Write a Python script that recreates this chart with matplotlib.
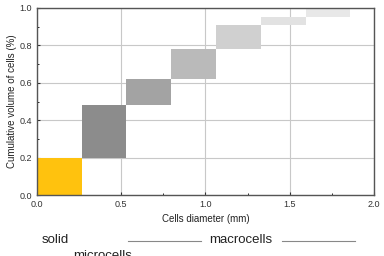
import matplotlib
matplotlib.use('Agg')
import matplotlib.pyplot as plt

plt.rcParams['font.family'] = ['Liberation Sans', 'DejaVu Sans']

# cell size classes (mm) and cumulative volume fraction
edges = [0.0, 0.265, 0.53, 0.795, 1.06, 1.33, 1.595, 1.86]
cum_volume = [0.0, 0.20, 0.48, 0.62, 0.78, 0.91, 0.95, 0.995]
colors = ['#FFC20E', '#8c8c8c', '#a3a3a3', '#bababa', '#d0d0d0', '#e2e2e2', '#e8e8e8']

fig = plt.figure(figsize=(3.84, 2.56), dpi=100)
ax = fig.add_axes([0.096, 0.238, 0.878, 0.731])

for i in range(len(edges) - 1):
    ax.bar(edges[i], cum_volume[i + 1] - cum_volume[i], width=edges[i + 1] - edges[i],
           bottom=cum_volume[i], align='edge', color=colors[i], zorder=2)

ax.set_xlim(0, 2.0)
ax.set_ylim(0, 1.0)
ax.set_xticks([0.0, 0.5, 1.0, 1.5, 2.0])
ax.set_yticks([0.0, 0.2, 0.4, 0.6, 0.8, 1.0])
ax.set_xticks([0.25, 0.75, 1.25, 1.75], minor=True)
ax.set_yticks([0.1, 0.3, 0.5, 0.7, 0.9], minor=True)
ax.grid(True, which='major', color='#c8c8c8', linewidth=0.8, zorder=1)
ax.set_axisbelow(True)
ax.tick_params(direction='in', labelsize=6.5, colors='#333333', length=2.5, width=0.8)
ax.tick_params(which='minor', direction='in', length=1.5)
for s in ax.spines.values():
    s.set_color('#555555')
    s.set_linewidth(1.0)

ax.set_xlabel('Cells diameter (mm)', fontsize=7, color='#222222', labelpad=4)
ax.set_ylabel('Cumulative volume of cells (%)', fontsize=7, color='#222222', labelpad=2)

fig.text(42 / 384, 1 - 240 / 256, 'solid', fontsize=9.5, va='center', ha='left', color='#222222')
fig.text(73 / 384, 1 - 256 / 256, 'microcells', fontsize=9.5, va='center', ha='left', color='#222222')
fig.text(241 / 384, 1 - 240 / 256, 'macrocells', fontsize=9.5, va='center', ha='center', color='#222222')
fig.add_artist(plt.Line2D([128 / 384, 201 / 384], [1 - 241 / 256] * 2, color='#888888', linewidth=0.8))
fig.add_artist(plt.Line2D([282 / 384, 355 / 384], [1 - 241 / 256] * 2, color='#888888', linewidth=0.8))

plt.savefig('out.png', dpi=100)
plt.close()
